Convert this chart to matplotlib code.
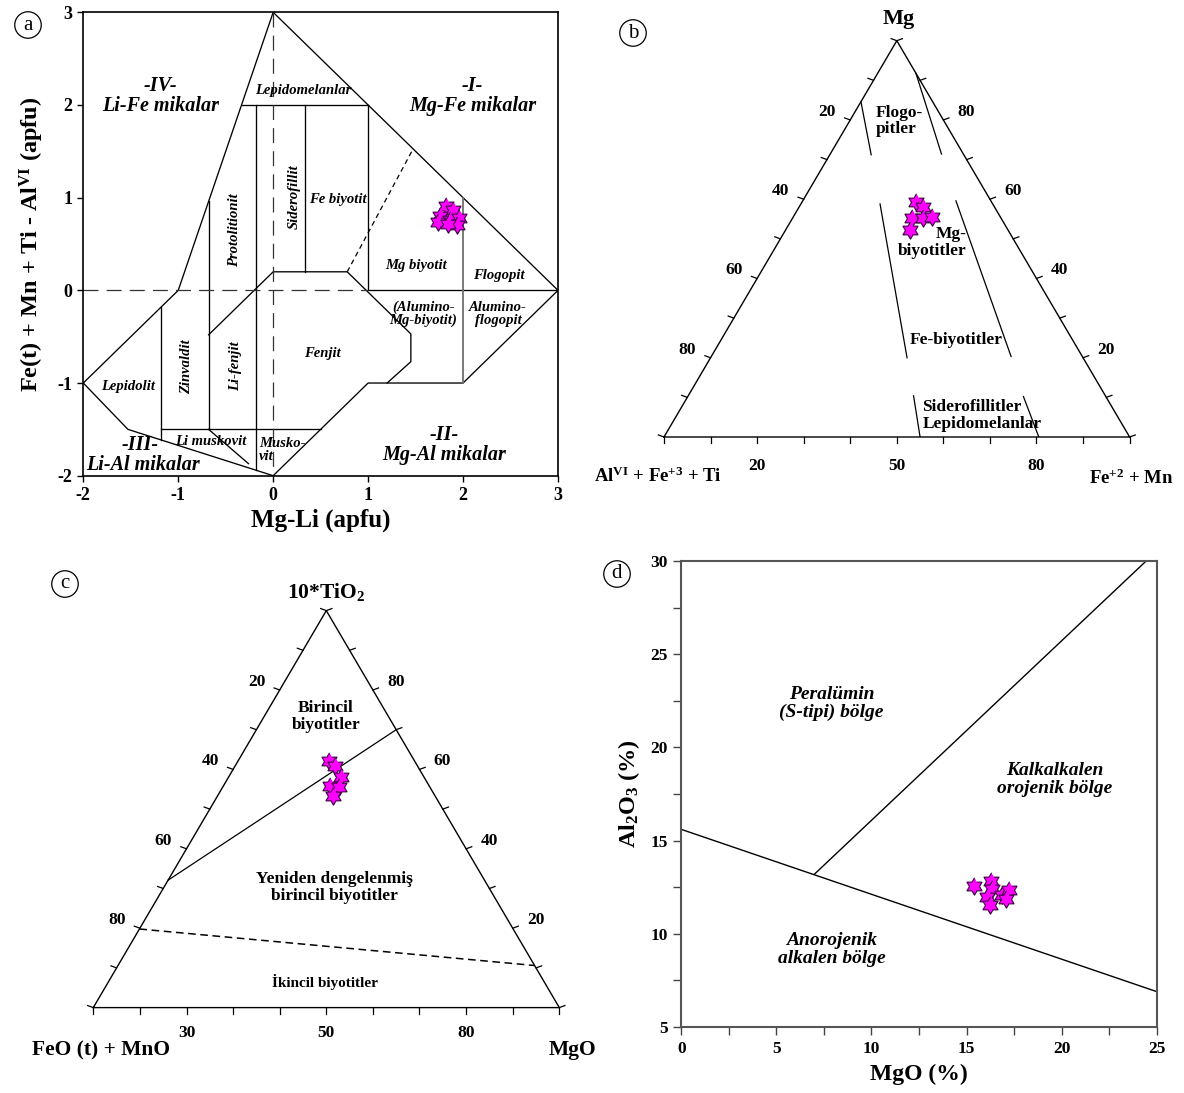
import numpy as np
import matplotlib
matplotlib.use("Agg")
import matplotlib.pyplot as plt
from matplotlib.ticker import MultipleLocator

plt.rcParams['font.family'] = ['Liberation Serif', 'DejaVu Serif']
plt.rcParams['font.weight'] = 'bold'
plt.rcParams['axes.labelweight'] = 'bold'
plt.rcParams['axes.unicode_minus'] = False
plt.rcParams['mathtext.fontset'] = 'custom'
plt.rcParams['mathtext.rm'] = 'Liberation Serif:bold'
plt.rcParams['mathtext.bf'] = 'Liberation Serif:bold'
plt.rcParams['mathtext.it'] = 'Liberation Serif:bold:italic'

# ---------------- data ----------------
# (a) Mg-Li vs Fe(t)+Mn+Ti-AlVI
a_mgli = [1.82, 1.89, 1.76, 1.86, 1.96, 1.74, 1.94, 1.84]
a_feti = [0.91, 0.87, 0.80, 0.76, 0.78, 0.74, 0.71, 0.72]

a_solid = [
    [(-2, -1), (-1, 0), (0, 3), (3, 0), (2, -1), (1, -1), (0, -2), (-1.53, -1.5), (-2, -1)],
    [(-1.18, -0.18), (-1.18, -1.61)],
    [(-0.68, 0.96), (-0.68, -1.5)],
    [(-0.18, 2.0), (-0.18, -1.94)],
    [(0.33, 2.0), (0.33, 0.2)],
    [(1, 2), (1, 0), (3, 0)],
    [(-0.33, 2), (1, 2)],
    [(-1.18, -1.5), (0.5, -1.5)],
    [(-0.68, -0.48), (0, 0.2), (0.78, 0.2), (1.45, -0.47), (1.45, -0.77), (1.2, -1.0)],
    [(-0.68, -1.5), (-0.26, -1.87)],
]
a_gray = [(2, 1), (2, -1)]
a_dash_long = [[(-2, 0), (1, 0)], [(0, 3), (0, -2)]]
a_dash_short = [(0.78, 0.2), (1.46, 1.5)]

a_labels = [
    ("-IV-\nLi-Fe mikalar", -1.19, 2.1, 14.5, 0, 'center'),
    ("-I-\nMg-Fe mikalar", 2.1, 2.1, 14.5, 0, 'center'),
    ("-III-", -1.40, -1.67, 14.5, 0, 'center'),
    ("Li-Al mikalar", -1.376, -1.885, 14.5, 0, 'center'),
    ("-II-\nMg-Al mikalar", 1.80, -1.67, 14.5, 0, 'center'),
    ("Lepidomelanlar", 0.32, 2.16, 10.5, 0, 'center'),
    ("Protolitionit", -0.41, 0.65, 10.5, 90, 'center'),
    ("Siderofillit", 0.22, 1.01, 10.5, 90, 'center'),
    ("Fe biyotit", 0.68, 0.975, 10.5, 0, 'center'),
    ("Mg biyotit", 1.51, 0.27, 10.5, 0, 'center'),
    ("Flogopit", 2.38, 0.165, 10.5, 0, 'center'),
    ("(Alumino-\nMg-biyotit)", 1.58, -0.255, 10.5, 0, 'center'),
    ("Alumino-\nflogopit", 2.37, -0.255, 10.5, 0, 'center'),
    ("Fenjit", 0.515, -0.68, 10.5, 0, 'center'),
    ("Zinvaldit", -0.908, -0.82, 10.5, 90, 'center'),
    ("Li-fenjit", -0.40, -0.82, 10.5, 90, 'center'),
    ("Lepidolit", -1.53, -1.04, 10.5, 0, 'center'),
    ("Li muskovit", -0.66, -1.63, 10.5, 0, 'center'),
    ("Musko-\nvit", -0.15, -1.72, 10.5, 0, 'left'),
]

# (b) Mg - (AlVI+Fe3+Ti) - (Fe2+Mn), percent
b_al = [16.1, 15.4, 19.2, 16.7, 14.7, 21.0]
b_fe = [24.5, 26.5, 25.6, 28.1, 29.7, 26.8]
b_mg = [59.4, 58.1, 55.2, 55.2, 55.6, 52.2]
# boundaries as (al, fe, mg)
b_lines = [
    [(15.4, 0, 84.6), (19.9, 8.9, 71.2)],
    [(0, 8.2, 91.8), (4.7, 23.9, 71.4)],
    [(24.2, 17.0, 58.8), (37.8, 42.2, 20.0)],
    [(7.5, 32.9, 59.6), (15.3, 64.4, 20.3)],
    [(41.2, 48.4, 10.4), (45.0, 55.0, 0)],
    [(17.7, 72.1, 10.2), (19.5, 80.5, 0)],
]

# (c) 10*TiO2 - (FeO+MnO) - MgO, percent
c_fe = [18.4, 17.6, 17.8, 21.3, 19.5, 21.9]
c_mg = [19.6, 21.5, 24.1, 22.8, 25.0, 24.7]
c_ti = [62.0, 60.9, 58.1, 55.9, 55.5, 53.4]
c_solid = [(67.9, 0, 32.1), (0, 30.0, 70.0)]
c_dash = [(80.2, 0, 19.8), (0, 89.4, 10.6)]

# (d) MgO vs Al2O3
d_mgo = [15.41, 16.28, 16.34, 16.08, 16.89, 17.23, 17.09, 16.22]
d_al2o3 = [12.55, 12.82, 12.42, 11.95, 12.09, 12.37, 11.87, 11.54]
d_line1 = [(0, 15.6), (25, 6.9)]
d_line2 = [(7.0, 13.2), (24.45, 30)]

tick_vals = [0, 10, 20, 30, 40, 50, 60, 70, 80, 90, 100]

# ---------------- figure ----------------
W, H = 1184, 1093
fig = plt.figure(figsize=(W / 100, H / 100), dpi=100)


def px_axes(l, t, r, b):
    return fig.add_axes([l / W, 1 - b / H, (r - l) / W, (b - t) / H])


# six-pointed star marker
ang6 = np.pi / 2 + np.arange(12) * np.pi / 6
rad6 = np.where(np.arange(12) % 2 == 0, 1.0, 0.58)
hexstar = list(zip(rad6 * np.cos(ang6), rad6 * np.sin(ang6)))
star = dict(marker=hexstar, ms=12.5, mfc='#ff00ff', mec='#3a0040', mew=0.8, ls='none', zorder=5)


def circ_label(x, y, s):
    fig.text(x / W, 1 - y / H, s, fontsize=15, fontweight='normal', ha='center', va='center',
             bbox=dict(boxstyle='circle,pad=0.18', fc='white', ec='black', lw=0.9))


# ---- panel a ----
ax = px_axes(83.3, 12.3, 558, 475.7)
for seg in a_solid:
    ax.plot(*zip(*seg), color='black', lw=0.95)
ax.plot(*zip(*a_gray), color='#707070', lw=1.3)
for seg in a_dash_long:
    ax.plot(*zip(*seg), color='#333333', lw=0.9, dashes=(12, 6.5))
ax.plot(*zip(*a_dash_short), color='black', lw=0.9, dashes=(4, 3))
ax.plot(a_mgli, a_feti, **star)
for s, x, y, fs, rot, ha in a_labels:
    ax.text(x, y, s, fontsize=fs, style='italic', rotation=rot, ha=ha, va='center',
            multialignment='center' if ha == 'center' else 'left', linespacing=1.0)
ax.set_xlim(-2, 3)
ax.set_ylim(-2, 3)
ax.set_xticks(range(-2, 4))
ax.set_yticks(range(-2, 4))
ax.tick_params(direction='out', length=4, width=1, labelsize=13, pad=4)
for sp in ax.spines.values():
    sp.set_linewidth(1.2)
ax.set_xlabel('Mg-Li (apfu)', fontsize=18)
ax.xaxis.set_label_coords(0.5, -0.072)
ax.set_ylabel(r'Fe(t) + Mn + Ti - Al$^{\mathrm{VI}}$ (apfu)', fontsize=17.5)
ax.yaxis.set_label_coords(-0.078, 0.5)
circ_label(28, 25, 'a')


# ---- ternary helpers ----
def tern_xy(left, right, top):
    left, right, top = (np.asarray(v, dtype=float) for v in (left, right, top))
    s = left + right + top
    return (right + top / 2) / s, top / s


def tern_frame(ax, bw, bh, bottom_labels, lbl_fs, bot_off):
    cx, cy = tern_xy([100, 0, 0, 100], [0, 100, 0, 0], [0, 0, 100, 0])
    ax.plot(cx, cy, color='black', lw=1.0, clip_on=False)
    L = 6.0
    ang = np.deg2rad(20)
    for v in tick_vals:
        s = v / 100
        x0, y0 = 0.5 - 0.5 * s, 1 - s
        ax.plot([x0, x0 - L * np.cos(ang) / bw], [y0, y0 + L * np.sin(ang) / bh],
                color='black', lw=0.9, clip_on=False)
        x1, y1 = 0.5 + 0.5 * s, 1 - s
        ax.plot([x1, x1 + L * np.cos(ang) / bw], [y1, y1 + L * np.sin(ang) / bh],
                color='black', lw=0.9, clip_on=False)
        ax.plot([s, s], [0, -L / bh], color='black', lw=0.9, clip_on=False)
    for v in [20, 40, 60, 80]:
        s = v / 100
        ax.text(0.5 - 0.5 * s - 23 / bw, 1 - s + 8 / bh, str(v), fontsize=lbl_fs,
                ha='center', va='center')
        ax.text(0.5 + 0.5 * s + 23 / bw, 1 - s + 8 / bh, str(100 - v), fontsize=lbl_fs,
                ha='center', va='center')
    for pos, txt in bottom_labels:
        ax.text(pos / 100, -bot_off / bh, txt, fontsize=lbl_fs, ha='center', va='center')
    ax.set_xlim(0, 1)
    ax.set_ylim(0, 1)
    ax.axis('off')


# ---- panel b ----
bw, bh = 465.6, 396.3
ax = px_axes(664, 40.7, 664 + bw, 437)
tern_frame(ax, bw, bh, [(20, '20'), (50, '50'), (80, '80')], 12.5, 29)
for seg in b_lines:
    al, fe, mg = zip(*seg)
    ax.plot(*tern_xy(al, fe, mg), color='black', lw=0.9)
ax.plot(*tern_xy(b_al, b_fe, b_mg), **star)
ax.text(0.505, 1.056, 'Mg', fontsize=16, ha='center', va='center')
ax.text(0.455, 0.797, 'Flogo-\npitler', fontsize=12.5, ha='left', va='center', linespacing=1.05)
ax.text(0.649, 0.491, 'Mg-\nbiyotitler', fontsize=12.5, ha='right', va='center',
        multialignment='right', linespacing=1.05)
ax.text(0.628, 0.245, 'Fe-biyotitler', fontsize=12.5, ha='center', va='center')
ax.text(0.555, 0.054, 'Siderofillitler\nLepidomelanlar', fontsize=12.5, ha='left', va='center',
        linespacing=1.05)
ax.text(-0.013, -0.10, r'Al$^{\mathrm{VI}}$ + Fe$^{\mathrm{+3}}$ + Ti', fontsize=13.5,
        ha='center', va='center')
ax.text(1.003, -0.103, r'Fe$^{\mathrm{+2}}$ + Mn', fontsize=13.5, ha='center', va='center')
circ_label(633, 33, 'b')

# ---- panel c ----
cw, ch = 466.0, 397.0
ax = px_axes(93.3, 610.6, 93.3 + cw, 1007.6)
tern_frame(ax, cw, ch, [(20, '30'), (50, '50'), (80, '80')], 12.5, 25)
fe, mg, ti = zip(*c_solid)
ax.plot(*tern_xy(fe, mg, ti), color='black', lw=0.9)
fe, mg, ti = zip(*c_dash)
ax.plot(*tern_xy(fe, mg, ti), color='black', lw=1.1, dashes=(5, 3))
ax.plot(*tern_xy(c_fe, c_mg, c_ti), **star)
ax.text(0.5, 1.047, r'10*TiO$_{\mathrm{2}}$', fontsize=15.5, ha='center', va='center')
ax.text(0.499, 0.734, 'Birincil\nbiyotitler', fontsize=12.5, ha='center', va='center', linespacing=1.1)
ax.text(0.518, 0.3025, 'Yeniden dengelenmiş\nbirincil biyotitler', fontsize=12.5, ha='center',
        va='center', linespacing=1.05)
ax.text(0.497, 0.0645, 'İkincil biyotitler', fontsize=11, ha='center', va='center')
ax.text(0.0165, -0.108, 'FeO (t) + MnO', fontsize=15.5, ha='center', va='center')
ax.text(1.029, -0.108, 'MgO', fontsize=15.5, ha='center', va='center')
circ_label(65, 584, 'c')

# ---- panel d ----
ax = px_axes(681.4, 561, 1156.6, 1027)
ax.plot(*zip(*d_line1), color='black', lw=1.0)
ax.plot(*zip(*d_line2), color='black', lw=1.0)
ax.plot(d_mgo, d_al2o3, **star)
ax.text(7.9, 22.35, 'Peralümin\n(S-tipi) bölge', fontsize=14, style='italic', ha='center',
        va='center', linespacing=1.05)
ax.text(19.65, 18.27, 'Kalkalkalen\norojenik bölge', fontsize=14, style='italic', ha='center',
        va='center', linespacing=1.05)
ax.text(7.9, 9.16, 'Anorojenik\nalkalen bölge', fontsize=14, style='italic', ha='center',
        va='center', linespacing=1.05)
ax.set_xlim(0, 25)
ax.set_ylim(5, 30)
ax.xaxis.set_major_locator(MultipleLocator(5))
ax.xaxis.set_minor_locator(MultipleLocator(2.5))
ax.yaxis.set_major_locator(MultipleLocator(5))
ax.yaxis.set_minor_locator(MultipleLocator(2.5))
ax.tick_params(which='both', direction='out', length=6, width=1, labelsize=12.5, pad=4, color='#444444')
for sp in ax.spines.values():
    sp.set_linewidth(1.5)
    sp.set_color('#555555')
ax.set_xlabel('MgO (%)', fontsize=17)
ax.xaxis.set_label_coords(0.5, -0.079)
ax.set_ylabel(r'Al$_{\mathrm{2}}$O$_{\mathrm{3}}$ (%)', fontsize=17.5)
ax.yaxis.set_label_coords(-0.083, 0.5)
circ_label(617, 574, 'd')

fig.savefig('out.png', dpi=100)
